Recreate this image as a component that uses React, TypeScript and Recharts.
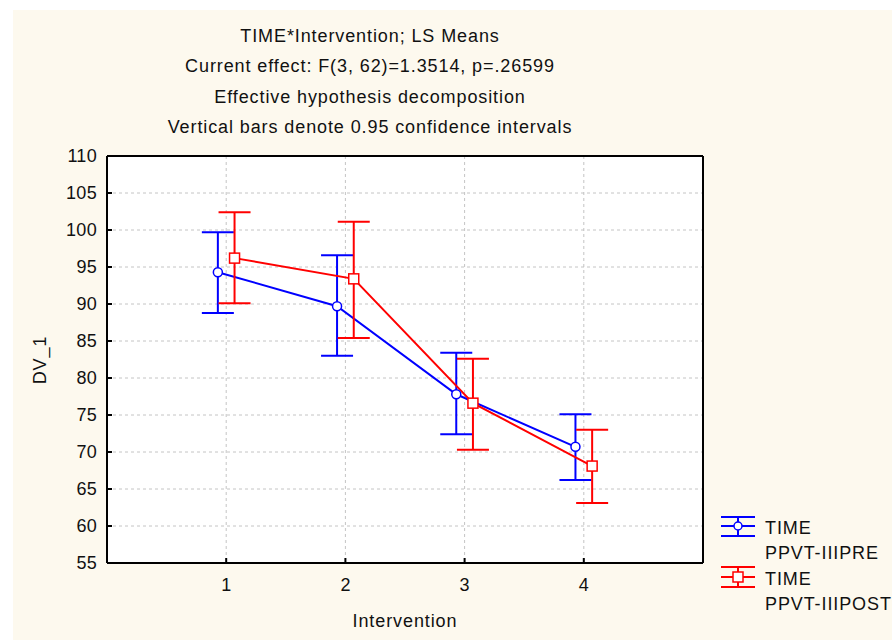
import React from 'react';
import { ComposedChart, Line, XAxis, YAxis, CartesianGrid, ErrorBar } from 'recharts';

const categories = [1, 2, 3, 4];
const preMeans = [94.3, 89.7, 77.8, 70.7];
const preLow = [88.8, 83.0, 72.4, 66.2];
const preHigh = [99.7, 96.6, 83.4, 75.1];
const postMeans = [96.2, 93.4, 76.6, 68.1];
const postLow = [90.1, 85.4, 70.3, 63.1];
const postHigh = [102.4, 101.1, 82.6, 73.0];
const yTicks = [55, 60, 65, 70, 75, 80, 85, 90, 95, 100, 105, 110];
const titleLines = [
  'TIME*Intervention; LS Means',
  'Current effect: F(3, 62)=1.3514, p=.26599',
  'Effective hypothesis decomposition',
  'Vertical bars denote 0.95 confidence intervals',
];
const seriesLabels = [
  ['TIME', 'PPVT-IIIPRE'],
  ['TIME', 'PPVT-IIIPOST'],
];
const xTitle = 'Intervention';
const yTitle = 'DV_1';

const OFFSET = 0.07;
const build = (means: number[], low: number[], high: number[], off: number) =>
  categories.map((c, i) => ({ x: c + off, y: means[i], err: [means[i] - low[i], high[i] - means[i]] }));
const preData = build(preMeans, preLow, preHigh, -OFFSET);
const postData = build(postMeans, postLow, postHigh, OFFSET);

const BLUE = '#0000ff';
const RED = '#ff0000';
const FONT = '"Liberation Sans", Arial, sans-serif';

const SquareDot = (props: any) => {
  const { cx, cy, index } = props;
  if (cx == null || cy == null) return null;
  return <rect key={`sq-${index}`} x={cx - 5} y={cy - 5} width={10} height={10} fill="#fff" stroke={RED} strokeWidth={1.5} />;
};

const XTick = (props: any) => {
  const { x, y, payload } = props;
  return (
    <text x={x} y={y} dy="0.71em" textAnchor="middle" fontSize={18} fontFamily={FONT} fill="#111">
      {payload.value}
    </text>
  );
};
const YTick = (props: any) => {
  const { x, y, payload } = props;
  return (
    <text x={x} y={y} dy="0.36em" textAnchor="end" fontSize={18} fontFamily={FONT} fill="#111" letterSpacing={0.3}>
      {payload.value}
    </text>
  );
};

export default function App() {
  return (
    <div style={{ position: 'absolute', left: 0, top: 0, width: 892, height: 640, background: '#fff' }}>
      <div style={{ position: 'absolute', left: 13, top: 10, width: 879, height: 630, background: '#fdf9ee' }} />
      <div style={{ position: 'absolute', left: 0, top: 0 }}>
        <ComposedChart
          width={892}
          height={640}
          margin={{ top: 155, right: 188, bottom: 37, left: 47 }}
          style={{ fontFamily: FONT }}
        >
          <CartesianGrid fill="#ffffff" stroke="#c4c4c4" strokeDasharray="3 3" />
          <XAxis
            xAxisId={0}
            dataKey="x"
            type="number"
            domain={[0, 5]}
            ticks={categories}
            allowDataOverflow
            height={40}
            tickSize={-5}
            tickMargin={20}
            axisLine={{ stroke: '#000', strokeWidth: 2 }}
            tickLine={{ stroke: '#000', strokeWidth: 2 }}
            tick={<XTick />}
          />
          <XAxis
            xAxisId="top"
            orientation="top"
            dataKey="x"
            type="number"
            domain={[0, 5]}
            ticks={categories}
            allowDataOverflow
            height={1}
            tickSize={-5}
            tick={false}
            axisLine={{ stroke: '#000', strokeWidth: 2 }}
            tickLine={{ stroke: '#000', strokeWidth: 2 }}
          />
          <YAxis
            yAxisId={0}
            type="number"
            domain={[55, 110]}
            ticks={yTicks}
            allowDataOverflow
            width={60}
            tickSize={-5}
            tickMargin={15}
            axisLine={{ stroke: '#000', strokeWidth: 2 }}
            tickLine={{ stroke: '#000', strokeWidth: 2 }}
            tick={<YTick />}
          />
          <YAxis
            yAxisId="right"
            orientation="right"
            type="number"
            domain={[55, 110]}
            ticks={yTicks}
            allowDataOverflow
            width={1}
            tickSize={-5}
            tick={false}
            axisLine={{ stroke: '#000', strokeWidth: 2 }}
            tickLine={{ stroke: '#000', strokeWidth: 2 }}
          />
          <Line
            data={preData}
            dataKey="y"
            stroke={BLUE}
            strokeWidth={2}
            isAnimationActive={false}
            dot={{ r: 4.5, fill: '#fff', stroke: BLUE, strokeWidth: 1.5 }}
            activeDot={false}
          >
            <ErrorBar dataKey="err" direction="y" width={16} stroke={BLUE} strokeWidth={2} isAnimationActive={false} />
          </Line>
          <Line
            data={postData}
            dataKey="y"
            stroke={RED}
            strokeWidth={2}
            isAnimationActive={false}
            dot={SquareDot}
            activeDot={false}
          >
            <ErrorBar dataKey="err" direction="y" width={16} stroke={RED} strokeWidth={2} isAnimationActive={false} />
          </Line>
        </ComposedChart>
      </div>
      <svg width={892} height={640} style={{ position: 'absolute', left: 0, top: 0, pointerEvents: 'none' }}>
        <g fontFamily={FONT} fontSize={18} fill="#111" letterSpacing={0.9}>
          {titleLines.map((t, i) => (
            <text key={i} x={370} y={42 + i * 30.4} textAnchor="middle">{t}</text>
          ))}
          <text x={405} y={627} textAnchor="middle">{xTitle}</text>
          <text x={46} y={360} textAnchor="middle" transform="rotate(-90 46 360)">{yTitle}</text>
          {seriesLabels.map((lines, i) => (
            <g key={i}>
              <text x={765} y={534 + i * 50.5}>{lines[0]}</text>
              <text x={765} y={559 + i * 51}>{lines[1]}</text>
            </g>
          ))}
        </g>
        <g stroke={BLUE} strokeWidth={2} fill="none">
          <line x1={721} x2={755} y1={517} y2={517} />
          <line x1={721} x2={755} y1={536} y2={536} />
          <line x1={721} x2={755} y1={526} y2={526} />
          <line x1={738} x2={738} y1={517} y2={536} />
          <circle cx={738} cy={526} r={4} fill="#fff" strokeWidth={1.5} />
        </g>
        <g stroke={RED} strokeWidth={2} fill="none">
          <line x1={721} x2={755} y1={567} y2={567} />
          <line x1={721} x2={755} y1={587} y2={587} />
          <line x1={738} x2={738} y1={567} y2={587} />
          <line x1={721} x2={755} y1={577} y2={577} />
          <rect x={733} y={572} width={10} height={10} fill="#fff" strokeWidth={1.5} />
        </g>
      </svg>
    </div>
  );
}
